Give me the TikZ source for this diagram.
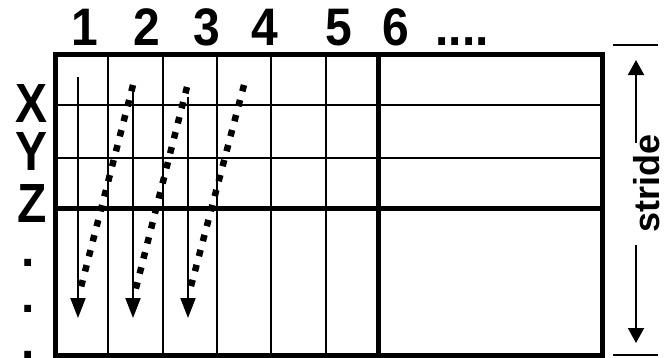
\documentclass[tikz,border=0pt]{standalone}
\usepackage{fontspec}
\setmainfont{Liberation Sans}
\usetikzlibrary{arrows.meta}

\begin{document}
\begin{tikzpicture}[
			x=1pt, y=-1pt,
			every node/.style={inner sep=0pt},
			colnum/.style={font=\fontsize{48}{48}\selectfont\bfseries, anchor=base, transform shape, yscale=1.1},
			rowname/.style={font=\fontsize{48}{48}\selectfont\bfseries, anchor=base, transform shape, yscale=1.15},
			rowdot/.style={font=\fontsize{48}{48}\selectfont\bfseries, anchor=base, text height=7pt, text depth=0pt},
			thinline/.style={line width=2pt},
			thickline/.style={line width=5pt},
			walk/.style={line width=2pt, -{Triangle[length=20pt,width=15pt]}},
			jump/.style={line width=6.5pt, dash pattern=on 6.5pt off 9pt},
			span/.style={line width=2pt, -{Triangle[length=15pt,width=16pt]}}
			]
			\useasboundingbox (0,0) rectangle (666,357);
			
			% Grid
			\draw[thinline] (108,54) -- (108,355) (163,54) -- (163,355) (217,54) -- (217,355)
				(271,54) -- (271,355) (326,54) -- (326,355);
			\draw[thinline] (55,105) -- (602,105) (55,158) -- (602,158);
			\draw[thickline] (378,54) -- (378,355) (55,208) -- (602,208);
			\draw[thickline] (55,54) rectangle (602,355);
			
			% Column numbers
			\node[colnum] (c1) at (85,45) {1};
			\node[colnum] (c2) at (147,45) {2};
			\node[colnum] (c3) at (207,45) {3};
			\node[colnum] (c4) at (265,45) {4};
			\node[colnum] (c5) at (339,45) {5};
			\node[colnum] (c6) at (396,45) {6};
			\node[colnum] (cmore) at (462,45) {....};
			
			% Row names
			\node[rowname] (rx) at (32,122) {X};
			\node[rowname] (ry) at (32,170) {Y};
			\node[rowname] (rz) at (32,222) {Z};
			\node[rowdot] (rd1) at (28,266) {.};
			\node[rowdot] (rd2) at (28,312) {.};
			\node[rowdot] (rd3) at (28,358) {.};
			
			% Walks down the columns
			\coordinate (run1top) at (78,77);
			\coordinate (run1end) at (78,318);
			\coordinate (run2top) at (133,87);
			\coordinate (run2end) at (133,318);
			\coordinate (run3top) at (188,97);
			\coordinate (run3end) at (188,318);
			\draw[walk] (run1top) -- (run1end);
			\draw[walk] (run2top) -- (run2end);
			\draw[walk] (run3top) -- (run3end);
			
			% Jumps back up
			\coordinate (jump1top) at (133,85);
			\coordinate (jump1end) at (80,291);
			\coordinate (jump2top) at (187,87);
			\coordinate (jump2end) at (135,292);
			\coordinate (jump3top) at (244,85);
			\coordinate (jump3end) at (190,290);
			\draw[jump] (jump1top) -- (jump1end);
			\draw[jump] (jump2top) -- (jump2end);
			\draw[jump] (jump3top) -- (jump3end);
			
			% Stride
			\coordinate (bartopl) at (613,45);
			\coordinate (bartopr) at (658,45);
			\coordinate (barbotl) at (613,355);
			\coordinate (barbotr) at (658,355);
			\draw[thinline] (bartopl) -- (bartopr);
			\draw[thinline] (barbotl) -- (barbotr);
			\node[rotate=90, font=\fontsize{36}{36}\selectfont\bfseries] (stride) at (647,183) {stride};
			\coordinate (upfrom) at (636,143);
			\coordinate (upto) at (636,60);
			\coordinate (downfrom) at (636,245);
			\coordinate (downto) at (636,343);
			\draw[span] (upfrom) -- (upto);
			\draw[span] (downfrom) -- (downto);
			
		\end{tikzpicture}
\end{document}
